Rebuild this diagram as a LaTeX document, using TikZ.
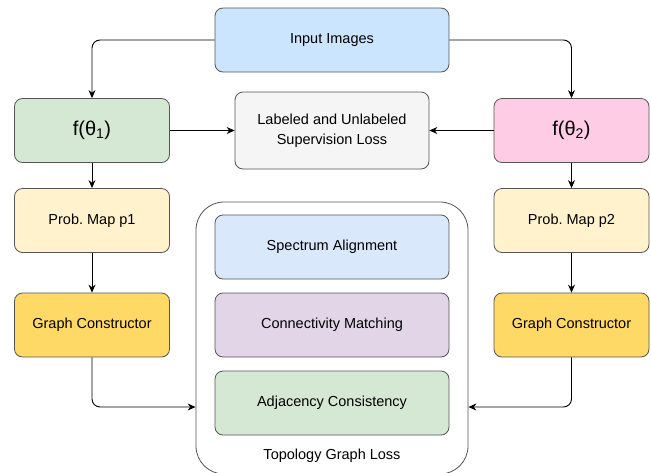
\documentclass[tikz,border=0pt]{standalone}
\usepackage{fontspec}
\setmainfont{Liberation Sans}
\usetikzlibrary{arrows.meta}
\frenchspacing
\definecolor{boxline}{HTML}{555555}
\definecolor{inblue}{HTML}{CCE5FF}
\definecolor{specblue}{HTML}{DAE8FC}
\definecolor{modgreen}{HTML}{D5E8D4}
\definecolor{modpink}{HTML}{FFCCE6}
\definecolor{suplight}{HTML}{F5F5F5}
\definecolor{probyellow}{HTML}{FFF2CC}
\definecolor{graphgold}{HTML}{FFD966}
\definecolor{connpurple}{HTML}{E1D5E7}
\begin{document}
\begin{tikzpicture}[x=1pt,y=-1pt,
    box/.style={draw=boxline, line width=0.8pt, rounded corners=8pt,
      minimum width=155pt, minimum height=64pt, align=center,
      font=\fontsize{14.5}{20}\selectfont},
    wide/.style={box, minimum width=234pt},
    link/.style={-{Stealth[length=8pt,width=7pt]}, line width=0.9pt, rounded corners=8pt}]
    \useasboundingbox (0,0) rectangle (651,472);
    \clip (0,0) rectangle (651,472);
    % outer loss container
    \node[draw=boxline, line width=0.8pt, rounded corners=28pt,
      minimum width=272pt, minimum height=272pt] (topo) at (332,338) {};
    \node[font=\fontsize{14.5}{18}\selectfont] (topolabel) at (332,456) {Topology Graph Loss};
    \node[wide, fill=inblue] (input) at (332,40) {Input Images};
    \node[box, fill=modgreen, font=\fontsize{20}{24}\selectfont] (f1) at (92,130.5) {f(θ\textsubscript{1})};
    \node[box, fill=suplight, minimum width=194pt, minimum height=77pt] (sup) at (332,130.5)
      {Labeled and Unlabeled\\Supervision Loss};
    \node[box, fill=modpink, font=\fontsize{20}{24}\selectfont] (f2) at (571.5,130.5) {f(θ\textsubscript{2})};
    \node[box, fill=probyellow] (p1) at (92,220.5) {Prob. Map p1};
    \node[box, fill=probyellow] (p2) at (571.5,220.5) {Prob. Map p2};
    \node[box, fill=graphgold] (gc1) at (92,325) {Graph Constructor};
    \node[box, fill=graphgold] (gc2) at (571.5,325) {Graph Constructor};
    \node[wide, fill=specblue] (spec) at (332,247) {Spectrum Alignment};
    \node[wide, fill=connpurple] (conn) at (332,325) {Connectivity Matching};
    \node[wide, fill=modgreen] (adj) at (332,403) {Adjacency Consistency};
    \coordinate (topoL) at ([yshift=-4pt]topo.west |- adj);
    \coordinate (topoR) at ([yshift=-4pt]topo.east |- adj);
    % connectors
    \draw[link] (input.west) -| (f1.north);
    \draw[link] (input.east) -| (f2.north);
    \draw[link] (f1) -- (sup);
    \draw[link] (f2) -- (sup);
    \draw[link] (f1) -- (p1);
    \draw[link] (f2) -- (p2);
    \draw[link] (p1) -- (gc1);
    \draw[link] (p2) -- (gc2);
    \draw[link] (gc1.south) |- (topoL);
    \draw[link] (gc2.south) |- (topoR);
\end{tikzpicture}
\end{document}
